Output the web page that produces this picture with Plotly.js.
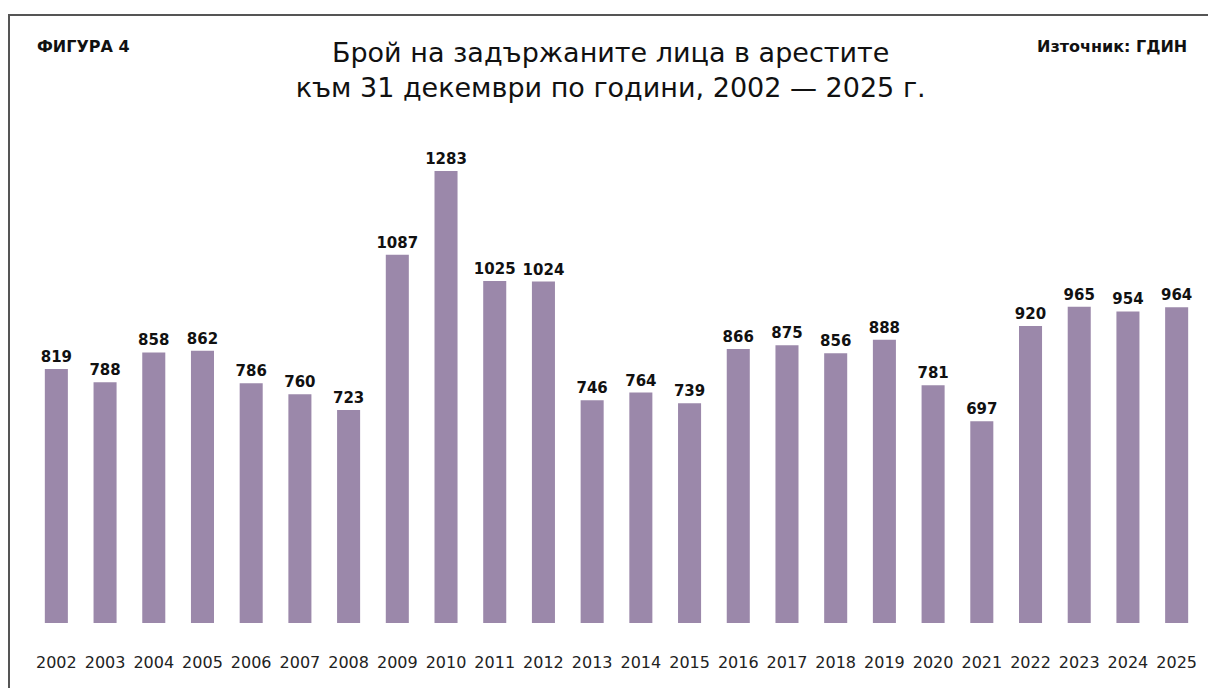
<!DOCTYPE html>
<html lang="bg">
<head>
<meta charset="utf-8">
<script src="https://cdn.plot.ly/plotly-3.0.1.min.js"></script>
<style>
html,body{margin:0;padding:0;background:#fff;overflow:hidden;}
#chart{width:1208px;height:688px;}
</style>
</head>
<body>
<div id="chart"></div>
<script>
const years = ['2002','2003','2004','2005','2006','2007','2008','2009','2010','2011','2012','2013','2014','2015','2016','2017','2018','2019','2020','2021','2022','2023','2024','2025'];
const detained = [819,788,858,862,786,760,723,1087,1283,1025,1024,746,764,739,866,875,856,888,781,697,920,965,954,964];
const titleText = 'Брой на задържаните лица в арестите<br>към 31 декември по години, 2002 — 2025 г.';
const figLabel = 'ФИГУРА 4';
const sourceLabel = 'Източник: ГДИН';

const FONT = '"DejaVu Sans", "Noto Sans", sans-serif';

const trace = {
  type: 'bar',
  x: years,
  y: detained,
  marker: {color: '#9b88aa'},
  text: detained.map(String),
  textposition: 'outside',
  constraintext: 'none',
  cliponaxis: false,
  textfont: {family: FONT, size: 15, color: '#111', weight: 700},
  hoverinfo: 'x+y'
};

// frame: top and left edges only (in pixel-equivalent paper units)
const PL = 32, PW = 1169, PB = 623, PH = 473;
const px = v => (v - PL) / PW;
const py = v => (PB - v) / PH;

const layout = {
  width: 1208,
  height: 688,
  margin: {l: 32, r: 7, t: 150, b: 65},
  paper_bgcolor: '#fff',
  plot_bgcolor: '#fff',
  bargap: 0.527,
  showlegend: false,
  font: {family: FONT, color: '#111'},
  title: {
    text: titleText,
    font: {family: FONT, size: 27, color: '#111'},
    xref: 'paper', x: 0.495, xanchor: 'center',
    yref: 'container', y: 1 - 62/688, yanchor: 'top'
  },
  xaxis: {
    type: 'category',
    showgrid: false,
    zeroline: false,
    showline: false,
    ticks: 'outside',
    ticklen: 25,
    tickcolor: 'rgba(0,0,0,0)',
    tickfont: {family: FONT, size: 16, color: '#222'}
  },
  yaxis: {
    range: [224.5, 1332],
    visible: false,
    showgrid: false,
    zeroline: false
  },
  shapes: [
    {type: 'line', xref: 'paper', yref: 'paper', x0: px(8), x1: px(1208), y0: py(15), y1: py(15),
     line: {color: '#555', width: 2}},
    {type: 'line', xref: 'paper', yref: 'paper', x0: px(9), x1: px(9), y0: py(14), y1: py(688),
     line: {color: '#555', width: 2}}
  ],
  annotations: [
    {text: figLabel, xref: 'paper', yref: 'paper', x: px(35), y: py(47), xanchor: 'left', yanchor: 'middle',
     showarrow: false, font: {family: FONT, size: 16, color: '#111', weight: 700}},
    {text: sourceLabel, xref: 'paper', yref: 'paper', x: px(1189), y: py(47), xanchor: 'right', yanchor: 'middle',
     showarrow: false, font: {family: FONT, size: 16, color: '#111', weight: 700}}
  ]
};

Plotly.newPlot('chart', [trace], layout, {displayModeBar: false, staticPlot: true});
</script>
</body>
</html>
